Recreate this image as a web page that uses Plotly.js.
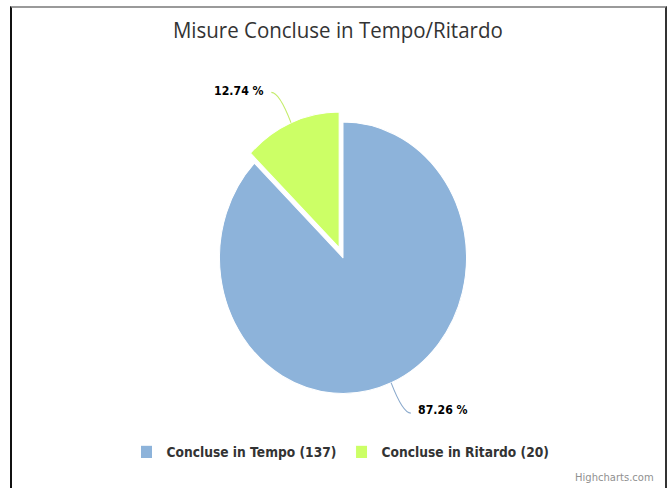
<!DOCTYPE html>
<html>
<head>
<meta charset="utf-8">
<script src="https://cdn.plot.ly/plotly-3.0.1.min.js"></script>
<style>
  html, body { margin: 0; padding: 0; background: #fff; overflow: hidden; }
  #wrap { position: relative; width: 669px; height: 488px; overflow: hidden; }
  #chart { width: 669px; height: 444px; transform: scaleY(1.0991); transform-origin: 0 0; }
  #frame { position: absolute; left: 10px; top: 6px; width: 653px; height: 500px;
           border-top: 2px solid #9a9a9a; border-left: 2px solid #111; border-right: 2px solid #333;
           pointer-events: none; }
</style>
</head>
<body>
<div id="wrap">
  <div id="chart"></div>
  <div id="frame"></div>
</div>
<script>
// ---- data ----
const categories = ['Concluse in Tempo', 'Concluse in Ritardo'];
const values = [137, 20];
const colors = ['#8db3da', '#ccff66'];
const connectorColors = ['#8aa9cc', '#c4ec6a'];
const pulls = [0, 0.08];
const chartTitle = 'Misure Concluse in Tempo/Ritardo';
const credit = 'Highcharts.com';

const total = values.reduce((a, b) => a + b, 0);
const legendLabels = categories.map((c, i) => c + ' (' + values[i] + ')');
const pctText = values.map(v => (v / total * 100).toFixed(2) + ' %');

// ---- geometry of the pie (paper / pixel) ----
const W = 669, H = 444;
const dom = { x: [0.3133, 0.7121], y: [0.1714, 0.7723] };
const maxPull = Math.max(...pulls);
const cxPx = (dom.x[0] + dom.x[1]) / 2 * W;
const cyPx = (1 - (dom.y[0] + dom.y[1]) / 2) * H;
const rPx = Math.min((dom.x[1] - dom.x[0]) * W, (dom.y[1] - dom.y[0]) * H) / 2 / (1 + maxPull);

const toPX = x => x / W;
const toPY = y => 1 - y / H;

const shapes = [];
const annotations = [];
let cum = 0;
values.forEach((v, i) => {
  const mid = (cum + v / 2) / total * 2 * Math.PI; // clockwise from top
  cum += v;
  const ux = Math.sin(mid), uy = -Math.cos(mid);
  const rr = rPx * (1 + pulls[i]);
  const E = [cxPx + rr * ux, cyPx + rr * uy];
  const d = 30;
  const R = [E[0] + d * ux, E[1] + d * uy];
  const s = ux < 0 ? -1 : 1;
  const L = [R[0] + s * 8, R[1]];
  shapes.push({
    type: 'path', xref: 'paper', yref: 'paper',
    path: 'M ' + toPX(E[0]) + ' ' + toPY(E[1]) +
          ' Q ' + toPX(R[0]) + ' ' + toPY(R[1]) +
          ' ' + toPX(L[0]) + ' ' + toPY(L[1]),
    line: { color: connectorColors[i], width: 1 }
  });
  annotations.push({
    text: pctText[i], xref: 'paper', yref: 'paper',
    x: toPX(L[0] + s * 5), y: toPY(L[1] - 2),
    xanchor: s < 0 ? 'right' : 'left', yanchor: 'middle',
    showarrow: false,
    font: { family: 'DejaVu Sans', size: 11, color: '#000', weight: 'bold' }
  });
});

annotations.push({
  text: credit, xref: 'paper', yref: 'paper',
  x: 0.9806, xanchor: 'right', y: 0.0214, yanchor: 'middle',
  showarrow: false, font: { family: 'DejaVu Sans', size: 10, color: '#909090' }
});

const trace = {
  type: 'pie',
  labels: legendLabels,
  values: values,
  textinfo: 'none',
  sort: false,
  direction: 'clockwise',
  rotation: 0,
  pull: pulls,
  marker: { colors: colors, line: { color: '#ffffff', width: 1 } },
  domain: dom,
  hoverinfo: 'none'
};

const layout = {
  width: W,
  height: H,
  margin: { l: 0, r: 0, t: 0, b: 0 },
  paper_bgcolor: '#fff',
  title: {
    text: chartTitle,
    x: 0.505, xanchor: 'center',
    y: 0.9385, yanchor: 'middle', yref: 'container',
    font: { family: 'Open Sans', size: 20.5, color: '#333' }
  },
  showlegend: true,
  legend: {
    orientation: 'h',
    x: 0.509, xanchor: 'center',
    y: 0.074, yanchor: 'middle',
    font: { family: 'DejaVu Sans', size: 12.3, color: '#333', weight: 'bold' },
    itemwidth: 30,
    traceorder: 'normal'
  },
  shapes: shapes,
  annotations: annotations
};

Plotly.newPlot('chart', [trace], layout, { displayModeBar: false, staticPlot: true });
</script>
</body>
</html>
